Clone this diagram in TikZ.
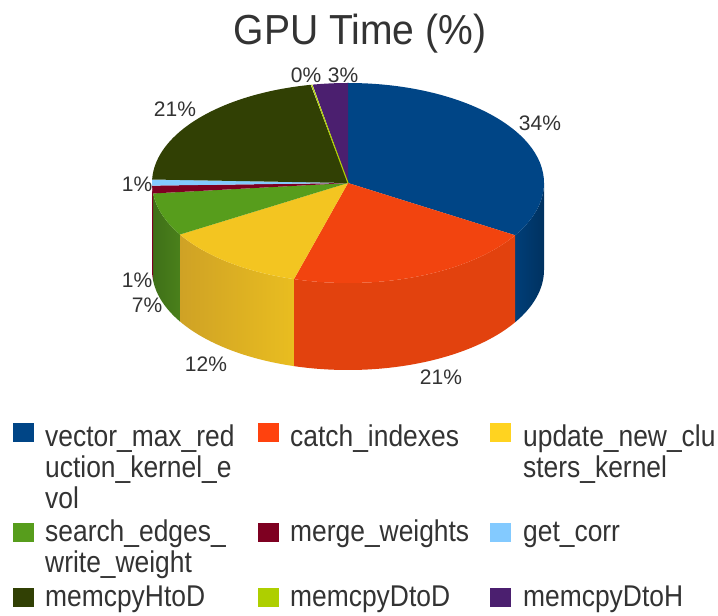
\documentclass[tikz,border=0pt]{standalone}
\usepackage{fontspec}
\setmainfont{Liberation Sans}
\newfontfamily\titlefont[FakeStretch=0.93]{Liberation Sans}
\newfontfamily\legendfont[FakeStretch=0.88]{Liberation Sans}

% chart palette
\definecolor{cBlue}{HTML}{004586}
\definecolor{cBlueSide}{HTML}{003E78}
\definecolor{cBlueDark}{HTML}{003260}
\definecolor{cRed}{HTML}{FF420E}
\definecolor{cRedTop}{HTML}{F2440F}
\definecolor{cRedSide}{HTML}{E2420E}
\definecolor{cYellow}{HTML}{FFD320}
\definecolor{cYellowTop}{HTML}{F3C521}
\definecolor{cYellowSideL}{HTML}{CFA225}
\definecolor{cYellowSideR}{HTML}{E9BD20}
\definecolor{cGreen}{HTML}{579D1C}
\definecolor{cGreenSide}{HTML}{4A801B}
\definecolor{cGreenSideL}{HTML}{3F7018}
\definecolor{cWine}{HTML}{7E0021}
\definecolor{cSky}{HTML}{83CAFF}
\definecolor{cOlive}{HTML}{314004}
\definecolor{cLime}{HTML}{AECF00}
\definecolor{cPurple}{HTML}{4B1F6F}
\definecolor{txt}{HTML}{333333}

\newcommand\rimside[3]{% start angle, end angle, fill options
  \path[#3] (#1:196 and 100) arc[start angle=#1, end angle=#2, x radius=196, y radius=100]
    -- ++(0,-87) arc[start angle=#2, end angle=#1, x radius=196, y radius=100] -- cycle;}
\newcommand\topwedge[3]{% start angle, end angle, fill options
  \path[#3] (0,0) -- (#1:196 and 100) arc[start angle=#1, end angle=#2, x radius=196, y radius=100] -- cycle;}
% wrapped legend entry, baseline on its first line
\newcommand\legstack[1]{\begin{tabular}[t]{@{}l@{}}#1\end{tabular}}

\begin{document}
\begin{tikzpicture}[x=1pt, y=1pt,
    pct/.style={font=\fontsize{21}{21}\selectfont, text=txt, inner sep=0pt, anchor=base},
    legtext/.style={font=\legendfont\fontsize{30}{30.5}\selectfont, text=txt, inner sep=0pt,
                    anchor=base west}]
\useasboundingbox (0,0) rectangle (718,616);
\fill[white] (0,0) rectangle (718,616);

% title
\node[font=\titlefont\fontsize{42}{42}\selectfont, text=txt, inner sep=0pt, anchor=base]
  (title) at (360,571) {GPU Time (\%)};

% 3D pie, centred on the top face
\begin{scope}[shift={(348,433)}]
  % visible rim, front half
  \rimside{-31.5}{0}{left color=cBlueSide, right color=cBlueDark}
  \rimside{-106}{-31.5}{fill=cRedSide}
  \rimside{-149}{-106}{left color=cYellowSideL, right color=cYellowSideR}
  \rimside{-174}{-149}{left color=cGreenSideL, right color=cGreenSide}
  \rimside{-180}{-174}{fill=cWine}
  % top face
  \topwedge{90}{-31.5}{fill=cBlue}
  \topwedge{-31.5}{-106}{fill=cRedTop}
  \topwedge{-106}{-149}{fill=cYellowTop}
  \topwedge{-149}{-174}{fill=cGreen}
  \topwedge{-174}{-178.5}{fill=cWine}
  \topwedge{-178.5}{-182}{fill=cSky}
  \topwedge{-182}{-259}{fill=cOlive}
  \topwedge{-259.6}{-270}{fill=cPurple}
  \draw[cLime, line width=1.1pt] (0,0) -- (-259.3:196 and 100);
\end{scope}

% value labels
\node[pct] (p1) at (540,485) {34\%};
\node[pct] (p2) at (441,231) {21\%};
\node[pct] (p3) at (206,244) {12\%};
\node[pct] (p4) at (147,303) {7\%};
\node[pct] (p5) at (137,328) {1\%};
\node[pct] (p6) at (137,424) {1\%};
\node[pct] (p7) at (175,499) {21\%};
\node[pct] (p8) at (306,533) {0\%};
\node[pct] (p9) at (343,533) {3\%};

% legend
\fill[cBlue]   (13,174) rectangle ++(20.5,19);
\fill[cRed]    (258,174) rectangle ++(20.5,19);
\fill[cYellow] (490,174) rectangle ++(20.5,19);
\fill[cGreen]  (13,74) rectangle ++(20.5,19);
\fill[cWine]   (258,74) rectangle ++(20.5,19);
\fill[cSky]    (490,74) rectangle ++(20.5,19);
\fill[cOlive]  (13,9) rectangle ++(20.5,19);
\fill[cLime]   (258,9) rectangle ++(20.5,19);
\fill[cPurple] (490,9) rectangle ++(20.5,19);

\node[legtext] (l1) at (45,169)  {\legstack{vector\_max\_red\\uction\_kernel\_e\\vol}};
\node[legtext] (l2) at (290,169) {catch\_indexes};
\node[legtext] (l3) at (523,169) {\legstack{update\_new\_clu\\sters\_kernel}};
\node[legtext] (l4) at (45,74)   {\legstack{search\_edges\_\\write\_weight}};
\node[legtext] (l5) at (290,74)  {merge\_weights};
\node[legtext] (l6) at (523,74)  {get\_corr};
\node[legtext] (l7) at (45,9)    {memcpyHtoD};
\node[legtext] (l8) at (290,9)   {memcpyDtoD};
\node[legtext] (l9) at (523,9)   {memcpyDtoH};
\end{tikzpicture}
\end{document}
